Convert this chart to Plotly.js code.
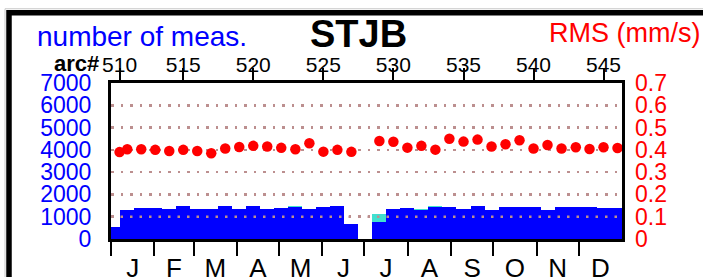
<!DOCTYPE html>
<html>
<head>
<meta charset="utf-8">
<script src="https://cdn.plot.ly/plotly-3.0.1.min.js"></script>
<style>html,body{margin:0;padding:0;background:#fff;}#chart{width:703px;height:277px;}</style>
</head>
<body>
<div id="chart"></div>
<script>
// ---- data ----
const arcNums = [510,511,512,513,514,515,516,517,518,519,520,521,522,523,524,525,526,527,528,529,530,531,532,533,534,535,536,537,538,539,540,541,542,543,544,545,546];
const arcDays = [6.1,11.6,21.6,31.6,41.6,51.6,61.6,71.6,81.6,91.6,101.6,111.6,121.6,131.7,141.7,151.7,161.7,171.7,181.7,191.7,201.7,211.7,221.7,231.7,241.7,251.8,261.8,271.8,281.8,291.8,301.8,311.8,321.8,332.0,341.8,351.8,361.8];
const binEdges = [0,6.1,16.6,26.6,36.6,46.6,56.6,66.6,76.6,86.6,96.6,106.6,116.6,126.6,136.7,146.7,156.7,166.7,176.7,186.7,196.7,206.7,216.7,226.7,236.7,246.7,256.8,266.8,276.8,286.8,296.8,306.8,316.8,326.8,336.8,346.8,356.8,366.8];
const measBlue  = [537,1281,1370,1402,1325,1478,1357,1325,1478,1325,1478,1357,1395,1446,1325,1415,1478,685,0,761,1343,1370,1298,1446,1430,1343,1493,1298,1415,1415,1446,1283,1446,1430,1415,1388,1388];
const measTotal = [537,1281,1370,1402,1325,1478,1357,1325,1478,1325,1478,1357,1395,1478,1325,1415,1478,685,0,1133,1357,1402,1357,1463,1446,1357,1493,1313,1430,1430,1446,1298,1446,1446,1415,1388,1388];
const rmsVals = [0.390,0.403,0.403,0.400,0.395,0.400,0.395,0.385,0.406,0.413,0.418,0.415,0.409,0.403,0.430,0.392,0.400,0.391,null,0.440,0.436,0.410,0.418,0.401,0.450,0.437,0.446,0.415,0.425,0.443,0.406,0.422,0.406,0.412,0.404,0.412,0.408];
const arcTickLabels = ['510','515','520','525','530','535','540','545'];
const monthLabels = ['J','F','M','A','M','J','J','A','S','O','N','D'];
const monthStartDays = [0,31,59,90,120,151,181,212,243,273,304,334];
const monthMidDays = [15.5,45,74.5,105,135.5,166,196.5,227.5,258,288.5,319,349.5];
const measTicks = [0,1000,2000,3000,4000,5000,6000,7000];
const rmsTicks = [0,0.1,0.2,0.3,0.4,0.5,0.6,0.7];

// ---- geometry ----
const W = 703, H = 277;
const M = {l:111, r:81, t:83, b:37.5};
const PW = W - M.l - M.r, PH = H - M.t - M.b;
const px = v => (v - M.l) / PW;
const py = v => 1 - (v - M.t) / PH;
const FONT = 'Liberation Sans, Arial, sans-serif';

const centers = [], widths = [];
for (let i = 0; i < binEdges.length - 1; i++) {
  centers.push((binEdges[i] + binEdges[i+1]) / 2);
  widths.push(binEdges[i+1] - binEdges[i]);
}
const arcTickVals = arcTickLabels.map(t => arcDays[arcNums.indexOf(+t)]);

const GRIDCOL = '#bc8f8f';
const GRIDDASH = '2.5px,7px';

const traces = [
  {type:'bar', x:centers, y:measTotal, width:widths, xaxis:'x', yaxis:'y',
   marker:{color:'#40e0d0', line:{width:0}}, hoverinfo:'skip', showlegend:false},
  {type:'bar', x:centers, y:measBlue, width:widths, xaxis:'x', yaxis:'y',
   marker:{color:'#0000ff', line:{width:0}}, hoverinfo:'skip', showlegend:false},
  {type:'scatter', mode:'markers', x:arcDays, y:rmsVals, xaxis:'x', yaxis:'y2',
   marker:{color:'#ff0000', size:10.5}, hoverinfo:'skip', showlegend:false},
  {type:'scatter', mode:'markers', x:[arcDays[0]], y:[0], xaxis:'x2', yaxis:'y',
   marker:{opacity:0}, hoverinfo:'skip', showlegend:false},
  {type:'scatter', mode:'markers', x:[arcDays[0]], y:[0], xaxis:'x3', yaxis:'y',
   marker:{opacity:0}, hoverinfo:'skip', showlegend:false}
];

const shapes = [
  {type:'rect', xref:'paper', yref:'paper', x0:px(5), x1:px(760), y0:py(8.5), y1:py(400),
   line:{color:'#c8c8c8', width:1}, fillcolor:'rgba(0,0,0,0)', layer:'above'},
  {type:'rect', xref:'paper', yref:'paper', x0:px(9), x1:px(760), y0:py(12.5), y1:py(400),
   line:{color:'#000', width:5.5}, fillcolor:'rgba(0,0,0,0)', layer:'above'},
  {type:'line', xref:'paper', yref:'y', x0:0, x1:1, y0:measTicks[1], y1:measTicks[1],
   line:{color:GRIDCOL, width:2.5, dash:GRIDDASH}, layer:'above'}
];

const annotations = [
  {xref:'paper', yref:'paper', x:px(35), y:py(36), xanchor:'left', yanchor:'middle', showarrow:false,
   text:'number of meas.', font:{family:FONT, size:28, color:'#0000ff'}},
  {xref:'paper', yref:'paper', x:px(358), y:py(33.5), xanchor:'center', yanchor:'middle', showarrow:false,
   text:'<b>STJB</b>', font:{family:FONT, size:38, color:'#000'}},
  {xref:'paper', yref:'paper', x:px(702), y:py(32.5), xanchor:'right', yanchor:'middle', showarrow:false,
   text:'RMS (mm/s)', font:{family:FONT, size:27, color:'#ff0000'}},
  {xref:'paper', yref:'paper', x:px(101), y:py(63.5), xanchor:'right', yanchor:'middle', showarrow:false,
   text:'<b>arc#</b>', font:{family:FONT, size:22, color:'#000'}}
];

const layout = {
  width:W, height:H, margin:M, paper_bgcolor:'#fff', plot_bgcolor:'#fff',
  barmode:'overlay', bargap:0, showlegend:false,
  font:{family:FONT},
  xaxis:{range:[0,365], showline:true, linewidth:3, linecolor:'#000', mirror:true,
    tickmode:'array', tickvals:monthStartDays, ticks:'outside', ticklen:14, tickwidth:2, tickcolor:'#000',
    showticklabels:false, showgrid:false, zeroline:false, fixedrange:true},
  xaxis2:{overlaying:'x', side:'top', anchor:'y', range:[0,365],
    tickmode:'array', tickvals:arcTickVals, ticktext:arcTickLabels, ticks:'outside', ticklen:14, tickwidth:2, tickcolor:'#000',
    ticklabelstandoff:-12, tickfont:{family:FONT, size:21, color:'#000'}, showgrid:false, zeroline:false, showline:false},
  xaxis3:{overlaying:'x', side:'bottom', anchor:'y', range:[0,365],
    tickmode:'array', tickvals:monthMidDays, ticktext:monthLabels, ticks:'outside', ticklen:6, tickcolor:'rgba(0,0,0,0)',
    tickfont:{family:FONT, size:26, color:'#000'}, showgrid:false, zeroline:false, showline:false},
  yaxis:{range:[0,7000], tickmode:'array', tickvals:measTicks, ticktext:measTicks.map(String),
    showline:true, linewidth:3, linecolor:'#000', mirror:true, ticks:'', ticklabelstandoff:12,
    tickfont:{family:FONT, size:23, color:'#0000ff'},
    showgrid:true, gridcolor:GRIDCOL, gridwidth:2.5, griddash:GRIDDASH, zeroline:false, fixedrange:true},
  yaxis2:{overlaying:'y', side:'right', anchor:'x', range:[0,0.7], tickmode:'array', tickvals:rmsTicks,
    ticktext:rmsTicks.map(String), ticks:'', ticklabelstandoff:12,
    tickfont:{family:FONT, size:23, color:'#ff0000'}, showgrid:false, zeroline:false, showline:false},
  shapes:shapes, annotations:annotations
};

Plotly.newPlot('chart', traces, layout, {staticPlot:true, displayModeBar:false});
</script>
</body>
</html>
